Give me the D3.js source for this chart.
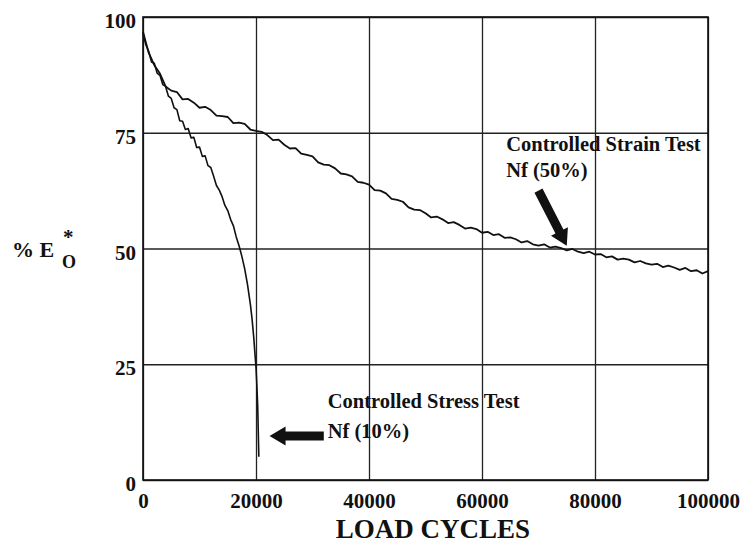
<!DOCTYPE html>
<html>
<head>
<meta charset="utf-8">
<script src="https://cdn.jsdelivr.net/npm/d3@7"></script>
<style>
  body { margin: 0; background: #fff; }
  svg text { font-family: "Liberation Serif", "Times New Roman", serif; fill: #111; }
</style>
</head>
<body>
<svg id="chart" width="751" height="548"></svg>
<script>

// ticks
var xTicks = [0, 20000, 40000, 60000, 80000, 100000];
var yTicks = [0, 25, 50, 75, 100];

// controlled strain test, one reading every 1000 cycles (0 .. 100000)
var strainStep = 1000;
var strainValues = [
  96.8, 92.3, 89.6, 87.8, 85.0, 84.1, 83.8, 82.2, 82.3, 81.5,
  80.4, 80.6, 79.9, 78.7, 78.6, 78.4, 77.1, 77.2, 76.9, 75.7,
  75.4, 75.2, 74.5, 73.4, 73.5, 72.4, 71.6, 71.7, 70.5, 70.2,
  69.9, 68.6, 68.1, 68.0, 67.3, 66.2, 66.0, 65.6, 64.4, 64.2,
  63.8, 62.6, 62.5, 61.9, 60.7, 60.5, 60.1, 58.9, 58.4, 58.3,
  57.6, 56.7, 56.9, 56.3, 55.5, 55.7, 55.1, 54.3, 54.5, 54.2,
  53.4, 53.6, 52.9, 53.1, 52.3, 52.4, 52.0, 51.3, 51.6, 50.9,
  50.6, 50.9, 50.2, 50.4, 50.1, 49.6, 49.9, 49.3, 49.0, 49.3,
  48.7, 48.8, 48.1, 48.3, 47.6, 47.8, 47.6, 47.0, 47.3, 46.8,
  46.5, 46.7, 46.0, 46.3, 45.9, 45.4, 45.8, 45.1, 45.3, 44.6,
  45.1
];

// controlled stress test
var stressCycles = [
  0, 500, 1000, 1500, 2000, 2500, 3000, 3500, 4000, 4500,
  5000, 5500, 6000, 6500, 7000, 7500, 8000, 8500, 9000, 9500,
  10000, 10500, 11000, 11500, 12000, 12500, 13000, 13500, 14000, 14500,
  15000, 15500, 16000, 16500, 17000, 17500, 18000, 18500, 19000, 19300,
  19600, 19800, 20000, 20150, 20300, 20400, 20500
];
var stressValues = [
  96.5, 94.0, 92.6, 90.3, 90.0, 87.9, 87.4, 85.4, 85.0, 82.9,
  82.4, 80.4, 80.0, 77.6, 77.5, 75.7, 75.9, 73.9, 74.0, 71.8,
  71.9, 69.9, 70.0, 67.9, 67.5, 65.6, 63.6, 62.6, 61.2, 59.3,
  58.2, 56.3, 54.9, 52.5, 50.6, 48.3, 45.6, 42.2, 38.0, 34.8,
  30.8, 27.5, 24.3, 20.5, 16.0, 10.5, 5.0
];

var strainLabel = ["Controlled Strain Test", "Nf (50%)"];
var stressLabel = ["Controlled Stress Test", "Nf (10%)"];

var svg = d3.select("#chart");
var margin = {top: 17, right: 43, bottom: 68, left: 143};
var width = 751 - margin.left - margin.right;
var height = 548 - margin.top - margin.bottom;

var x = d3.scaleLinear().domain([0, 100000]).range([0, width]);
var y = d3.scaleLinear().domain([0, 100]).range([height, 0]);

var g = svg.append("g").attr("transform", `translate(${margin.left},${margin.top})`);

// grid + tick labels
var xAxis = g.append("g")
    .attr("transform", `translate(0,${height})`)
    .call(d3.axisBottom(x).tickValues(xTicks).tickSize(-height).tickPadding(12).tickFormat(d3.format("d")));
var yAxis = g.append("g")
    .call(d3.axisLeft(y).tickValues(yTicks).tickSize(-width).tickPadding(7).tickFormat(d3.format("d")));

[xAxis, yAxis].forEach(function(a){
    a.select(".domain").remove();
    a.selectAll(".tick line").attr("stroke", "#222").attr("stroke-width", 1.3);
    a.selectAll(".tick text")
        .style("font-family", "'Liberation Serif', serif")
        .style("font-weight", "bold")
        .style("font-size", "21px")
        .attr("fill", "#111");
});
xAxis.selectAll(".tick text").attr("dy", "0.75em");
yAxis.selectAll(".tick text").attr("dy", "0.5em");

// frame
g.append("rect")
    .attr("width", width).attr("height", height)
    .attr("fill", "none").attr("stroke", "#111").attr("stroke-width", 1.6);

// curves
var line = d3.line().x(function(d){ return x(d[0]); }).y(function(d){ return y(d[1]); });

var strainData = strainValues.map(function(v, i){ return [i * strainStep, v]; });
var stressData = stressCycles.map(function(c, i){ return [c, stressValues[i]]; });

g.append("path").datum(strainData)
    .attr("d", line).attr("fill", "none").attr("stroke", "#111").attr("stroke-width", 1.8)
    .attr("stroke-linejoin", "round");
g.append("path").datum(stressData)
    .attr("d", line).attr("fill", "none").attr("stroke", "#111").attr("stroke-width", 1.6)
    .attr("stroke-linejoin", "round");

// annotations (placed in data units)
function arrow(from, to){
    var x1 = x(from[0]), y1 = y(from[1]), x2 = x(to[0]), y2 = y(to[1]);
    var len = Math.hypot(x2 - x1, y2 - y1);
    var ang = Math.atan2(y2 - y1, x2 - x1) * 180 / Math.PI;
    var hl = 16, hw = 9.5, sw = 4.5;
    var pts = [[0, -sw], [len - hl, -sw], [len - hl, -hw], [len, 0], [len - hl, hw], [len - hl, sw], [0, sw]];
    g.append("path")
        .attr("d", "M" + pts.map(function(p){ return p.join(","); }).join("L") + "Z")
        .attr("transform", `translate(${x1},${y1}) rotate(${ang})`)
        .attr("fill", "#111");
}

function note(lines, at, gap){
    var t = g.append("text")
        .attr("x", x(at[0])).attr("y", y(at[1]))
        .style("font-size", "20.5px").style("font-weight", "bold");
    lines.forEach(function(s, i){
        t.append("tspan").attr("x", x(at[0])).attr("dy", i ? gap : 0).text(s);
    });
}

arrow([32000, 9.5], [22400, 9.5]);
arrow([70000, 62.5], [75000, 50.6]);
note(stressLabel, [32700, 15.5], 30);
note(strainLabel, [64300, 71.1], 26);

// axis titles
svg.append("text")
    .attr("x", 433).attr("y", 538)
    .attr("text-anchor", "middle")
    .style("font-size", "27px").style("font-weight", "bold")
    .text("LOAD CYCLES");

svg.append("text").attr("x", 12).attr("y", 257)
    .style("font-size", "22px").style("font-weight", "bold")
    .text("% E");
svg.append("text").attr("x", 62).attr("y", 268)
    .style("font-size", "18px").style("font-weight", "bold").text("O");
svg.append("text").attr("x", 63).attr("y", 244)
    .style("font-size", "21px").style("font-weight", "bold").text("*");

</script>
</body>
</html>
